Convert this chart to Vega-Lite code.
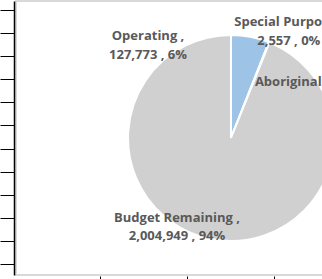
{
  "$schema": "https://vega.github.io/schema/vega-lite/v6.json",
  "width": 306,
  "height": 274,
  "autosize": {"type": "none"},
  "padding": {"left": 16, "top": 1, "right": 0, "bottom": 4},
  "background": "white",
  "config": {
    "view": {"stroke": "#D9D9D9", "strokeWidth": 2, "strokeDash": [306, 274, 580]}
  },
  "data": {
    "values": [
      {"idx": 1, "category": "Operating", "value": 127773, "label": "Operating ,\n127,773 , 6%", "lx": 0.552, "ly": 1.126},
      {"idx": 2, "category": "Special Purpose", "value": 2557, "label": "Special Purpose ,\n2,557 , 0%", "lx": 2.17, "ly": 0.541},
      {"idx": 3, "category": "Aboriginal", "value": 0, "label": "Aboriginal , 0 , 0%", "lx": 2.437, "ly": 3.118},
      {"idx": 4, "category": "Budget Remaining", "value": 2004949, "label": "Budget Remaining ,\n2,004,949 , 94%", "lx": 0.885, "ly": 9.008}
    ]
  },
  "layer": [
    {
      "mark": {"type": "arc", "outerRadius": 103, "stroke": "white", "strokeWidth": 2},
      "encoding": {
        "x": {"datum": 1.506, "type": "quantitative"},
        "y": {"datum": 5.543, "type": "quantitative"},
        "theta": {"field": "value", "type": "quantitative", "stack": true},
        "order": {"field": "idx", "type": "quantitative"},
        "color": {
          "field": "category",
          "type": "nominal",
          "scale": {
            "domain": ["Operating", "Special Purpose", "Aboriginal", "Budget Remaining"],
            "range": ["#9DC3E6", "#D0D0D0", "#D0D0D0", "#D0D0D0"]
          },
          "legend": null
        }
      }
    },
    {
      "mark": {
        "type": "text",
        "font": "Open Sans",
        "fontSize": 13,
        "fontWeight": "bold",
        "color": "#595959",
        "align": "center",
        "baseline": "middle",
        "lineBreak": "\n",
        "lineHeight": 18.5
      },
      "encoding": {
        "x": {
          "field": "lx",
          "type": "quantitative",
          "scale": {"domain": [-0.9655, 2.5517], "nice": false, "zero": false},
          "axis": {"values": [0, 1, 2], "tickCount": 10, "labels": false, "title": null, "grid": false, "domain": false, "tickSize": 3, "offset": 1, "tickColor": "black", "tickWidth": 1}
        },
        "y": {
          "field": "ly",
          "type": "quantitative",
          "scale": {"domain": [-0.3898, 11.4766], "reverse": true, "nice": false, "zero": false},
          "axis": {"values": [0, 1, 2, 3, 4, 5, 6, 7, 8, 9, 10, 11], "tickCount": 30, "labels": false, "title": null, "grid": false, "tickSize": 14, "offset": 2, "tickColor": "black", "tickWidth": 1, "domainColor": "black", "domainWidth": 1.5}
        },
        "text": {"field": "label", "type": "nominal"}
      }
    }
  ]
}
